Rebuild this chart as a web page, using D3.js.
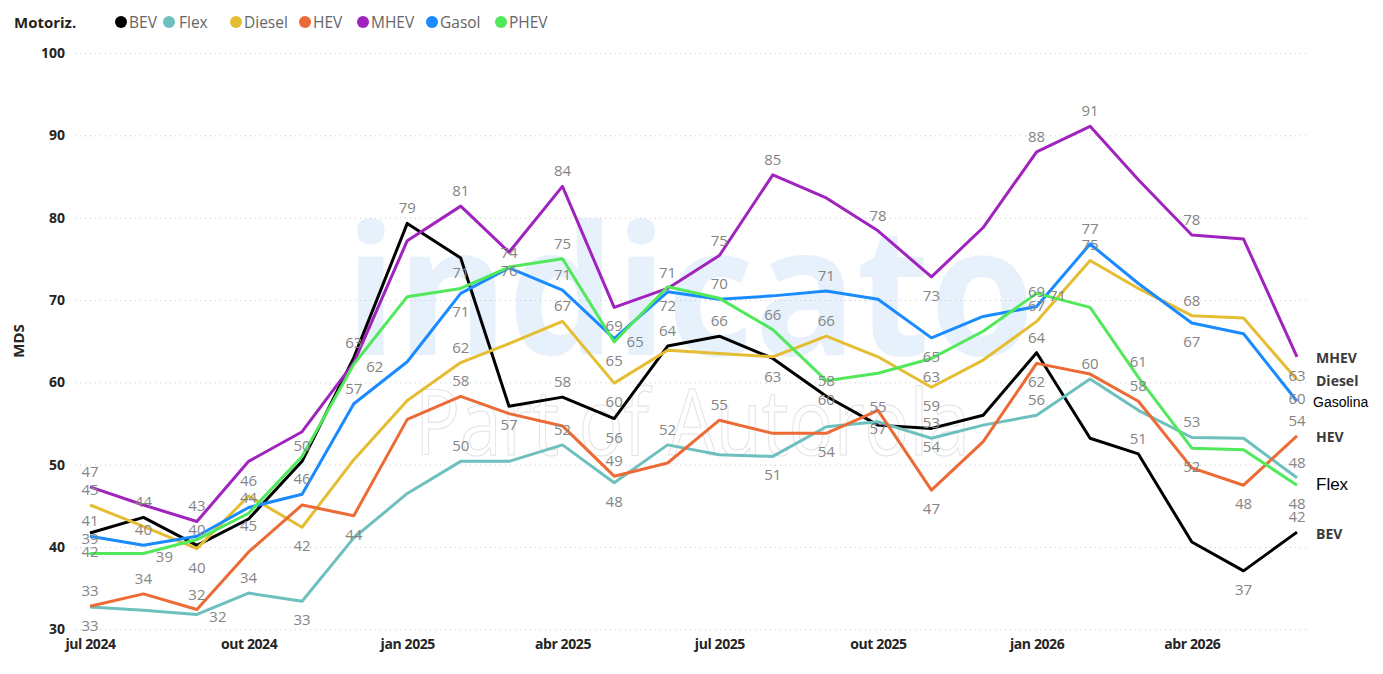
<!DOCTYPE html>
<html>
<head>
<meta charset="utf-8">
<script src="https://cdn.jsdelivr.net/npm/d3@7"></script>
<style>
  body { margin: 0; background: #fff; }
  svg { display: block; }
</style>
</head>
<body>
<div id="wrapper"></div>
<script>
const months = [
  "2024-07", "2024-08", "2024-09", "2024-10", "2024-11", "2024-12",
  "2025-01", "2025-02", "2025-03", "2025-04", "2025-05", "2025-06",
  "2025-07", "2025-08", "2025-09", "2025-10", "2025-11", "2025-12",
  "2026-01", "2026-02", "2026-03", "2026-04", "2026-05", "2026-06"
]

const bev    = [41.7, 43.6, 40.2, 43.4, 50.4, 63.0, 79.3, 75.1, 57.1, 58.2, 55.6, 64.4, 65.6, 62.9, 58.3, 54.8, 54.4, 56.0, 63.6, 53.2, 51.3, 40.6, 37.1, 41.8]
const flex   = [32.7, 32.3, 31.8, 34.4, 33.4, 41.1, 46.5, 50.4, 50.4, 52.4, 47.8, 52.4, 51.2, 51.0, 54.6, 55.2, 53.2, 54.8, 56.0, 60.4, 56.6, 53.3, 53.2, 48.4]
const diesel = [45.1, 42.5, 39.8, 46.2, 42.4, 50.6, 57.8, 62.4, 64.7, 67.4, 59.9, 63.9, 63.5, 63.1, 65.6, 63.1, 59.4, 62.7, 67.4, 74.8, 71.4, 68.1, 67.8, 60.3]
const hev    = [32.8, 34.3, 32.4, 39.4, 45.1, 43.8, 55.5, 58.3, 56.2, 54.7, 48.6, 50.2, 55.4, 53.8, 53.8, 56.6, 46.9, 52.8, 62.3, 61.0, 57.7, 49.6, 47.5, 53.5]
const mhev   = [47.3, 45.1, 43.1, 50.4, 54.0, 62.4, 77.2, 81.4, 75.8, 83.8, 69.1, 71.4, 75.4, 85.2, 82.4, 78.4, 72.8, 78.8, 88.0, 91.1, 84.6, 77.9, 77.4, 63.1]
const gasol  = [41.3, 40.2, 41.3, 44.8, 46.4, 57.4, 62.5, 70.8, 73.9, 71.2, 65.3, 71.0, 70.1, 70.5, 71.1, 70.1, 65.4, 68.0, 69.2, 76.8, 72.0, 67.2, 65.9, 57.7]
const phev   = [39.2, 39.2, 40.9, 44.1, 51.0, 62.2, 70.4, 71.4, 74.0, 75.0, 64.9, 71.6, 70.2, 66.4, 60.2, 61.1, 62.9, 66.2, 70.8, 69.1, 60.6, 52.0, 51.8, 47.5]

const seriesNames = ["BEV", "Flex", "Diesel", "HEV", "MHEV", "Gasol", "PHEV"]
const seriesValues = [bev, flex, diesel, hev, mhev, gasol, phev]
const colors = ["#000000", "#6ec0bf", "#e5bd33", "#ec6a35", "#a123bd", "#1a8bff", "#52e85b"]

// names written at the end of the lines
const endNames = { BEV: "BEV", Flex: "Flex", Diesel: "Diesel", HEV: "HEV", MHEV: "MHEV", Gasol: "Gasolina" }

const yTicks = [30, 40, 50, 60, 70, 80, 90, 100]
const xTicks = ["2024-07", "2024-10", "2025-01", "2025-04", "2025-07", "2025-10", "2026-01", "2026-04"]
const monthNames = ["jan", "fev", "mar", "abr", "mai", "jun", "jul", "ago", "set", "out", "nov", "dez"]

// which data labels are visible: [series, month index, place]
const shownLabels = [
  ["BEV", 0, "b"], ["BEV", 1, "a"], ["BEV", 2, "a"], ["BEV", 4, "a"], ["BEV", 5, "a"], ["BEV", 6, "a"],
  ["BEV", 8, "b"], ["BEV", 9, "a"], ["BEV", 10, "b"], ["BEV", 11, "a"], ["BEV", 12, "a"], ["BEV", 13, "b"],
  ["BEV", 14, "a"], ["BEV", 16, "b"], ["BEV", 18, "a"], ["BEV", 20, "a"], ["BEV", 22, "b"], ["BEV", 23, "a"],
  ["Flex", 0, "b"], ["Flex", 2, "r"], ["Flex", 3, "a"], ["Flex", 4, "b"], ["Flex", 7, "a"], ["Flex", 9, "a"],
  ["Flex", 10, "b"], ["Flex", 11, "a"], ["Flex", 13, "b"], ["Flex", 15, "a"], ["Flex", 16, "a"], ["Flex", 18, "a"],
  ["Flex", 19, "a"], ["Flex", 21, "a"], ["Flex", 23, "a"],
  ["Diesel", 0, "a"], ["Diesel", 2, "b"], ["Diesel", 3, "a"], ["Diesel", 4, "b"], ["Diesel", 7, "a"], ["Diesel", 9, "a"],
  ["Diesel", 10, "b"], ["Diesel", 14, "a"], ["Diesel", 16, "b"], ["Diesel", 18, "a"], ["Diesel", 19, "a"],
  ["Diesel", 21, "a"], ["Diesel", 23, "b"],
  ["HEV", 0, "a"], ["HEV", 1, "a"], ["HEV", 2, "a"], ["HEV", 5, "b"], ["HEV", 7, "a"], ["HEV", 10, "a"],
  ["HEV", 12, "a"], ["HEV", 14, "b"], ["HEV", 15, "b"], ["HEV", 16, "b"], ["HEV", 18, "b"], ["HEV", 20, "a"],
  ["HEV", 22, "b"], ["HEV", 23, "a"],
  ["MHEV", 0, "a"], ["MHEV", 2, "a"], ["MHEV", 7, "a"], ["MHEV", 8, "b"], ["MHEV", 9, "a"], ["MHEV", 10, "b"],
  ["MHEV", 11, "a"], ["MHEV", 12, "a"], ["MHEV", 13, "a"], ["MHEV", 15, "a"], ["MHEV", 16, "b"], ["MHEV", 18, "a"],
  ["MHEV", 19, "a"], ["MHEV", 21, "a"], ["MHEV", 23, "b"],
  ["Gasol", 0, "a"], ["Gasol", 1, "a"], ["Gasol", 3, "b"], ["Gasol", 4, "a"], ["Gasol", 5, "a"], ["Gasol", 7, "b"],
  ["Gasol", 8, "a"], ["Gasol", 9, "a"], ["Gasol", 10, "r"], ["Gasol", 12, "a"], ["Gasol", 14, "a"], ["Gasol", 16, "b"],
  ["Gasol", 18, "a"], ["Gasol", 19, "a"], ["Gasol", 21, "b"],
  ["PHEV", 0, "a"], ["PHEV", 1, "r"], ["PHEV", 3, "a"], ["PHEV", 5, "r"], ["PHEV", 7, "a"], ["PHEV", 9, "a"],
  ["PHEV", 10, "b"], ["PHEV", 11, "b"], ["PHEV", 13, "a"], ["PHEV", 14, "b"], ["PHEV", 16, "b"], ["PHEV", 18, "r"],
  ["PHEV", 20, "a"], ["PHEV", 21, "b"], ["PHEV", 23, "b"]
]

const parseMonth = d3.timeParse("%Y-%m")
const dates = months.map(parseMonth)

const width = 1383
const height = 674
const font = "'Open Sans', 'Noto Sans', sans-serif"

const svg = d3.select("#wrapper")
  .append("svg")
    .attr("width", width)
    .attr("height", height)
    .style("font-family", font)

const xScale = d3.scaleTime()
  .domain(d3.extent(dates))
  .range([90, 1297])

const yScale = d3.scaleLinear()
  .domain([30, 100])
  .range([629.3, 53])

// watermark
svg.append("text")
    .attr("x", 345)
    .attr("y", 355)
    .attr("textLength", 690)
    .attr("lengthAdjust", "spacingAndGlyphs")
    .attr("font-size", 180)
    .attr("font-weight", "bold")
    .attr("fill", "#e6f1fc")
    .text("indicato")

svg.append("text")
    .attr("x", 415)
    .attr("y", 455)
    .attr("textLength", 555)
    .attr("lengthAdjust", "spacingAndGlyphs")
    .attr("font-size", 92)
    .attr("fill", "none")
    .attr("stroke", "#e4e4e4")
    .attr("stroke-width", 1.2)
    .text("Part of Autorola")

// gridlines + y axis
const yAxis = svg.append("g")
  .attr("transform", "translate(75,0)")
  .call(d3.axisLeft(yScale).tickValues(yTicks).tickSize(-1235).tickPadding(10))

yAxis.select(".domain").remove()
yAxis.selectAll(".tick line")
    .attr("stroke", "#c8c8c8")
    .attr("stroke-dasharray", "1,4")
yAxis.selectAll(".tick text")
    .attr("font-family", font)
    .attr("font-size", 14)
    .attr("font-weight", "bold")
    .attr("fill", "#252423")

svg.append("text")
    .attr("transform", "translate(24,341) rotate(-90)")
    .attr("text-anchor", "middle")
    .attr("font-size", 15)
    .attr("font-weight", "bold")
    .attr("fill", "#252423")
    .text("MDS")

// x axis
const xAxis = svg.append("g")
  .attr("transform", "translate(0,635)")
  .call(d3.axisBottom(xScale)
    .tickValues(xTicks.map(parseMonth))
    .tickSize(0)
    .tickPadding(4)
    .tickFormat(d => monthNames[d.getMonth()] + " " + d.getFullYear()))

xAxis.select(".domain").remove()
xAxis.selectAll(".tick text")
    .attr("font-family", font)
    .attr("font-size", 14)
    .attr("font-weight", "bold")
    .attr("fill", "#252423")
    .attr("letter-spacing", "-0.4")

// lines
const line = d3.line()
  .x((d, i) => xScale(dates[i]))
  .y(d => yScale(d))

svg.append("g")
  .selectAll("path")
  .data(seriesValues)
  .join("path")
    .attr("d", line)
    .attr("fill", "none")
    .attr("stroke", (d, i) => colors[i])
    .attr("stroke-width", 3)
    .attr("stroke-linejoin", "round")

// data labels
svg.append("g")
  .selectAll("text")
  .data(shownLabels)
  .join("text")
    .attr("x", d => xScale(dates[d[1]]) + (d[2] == "r" ? 21 : 0))
    .attr("y", d => {
      const v = seriesValues[seriesNames.indexOf(d[0])][d[1]]
      const off = d[2] == "a" ? -16 : d[2] == "b" ? 18 : 2
      return yScale(v) + off
    })
    .attr("text-anchor", "middle")
    .attr("dominant-baseline", "central")
    .attr("font-size", 15)
    .attr("fill", "#858585")
    .text(d => Math.round(seriesValues[seriesNames.indexOf(d[0])][d[1]]))

// names at the end of the lines
const last = months.length - 1
svg.append("g")
  .selectAll("text")
  .data(seriesNames.filter(n => endNames[n]))
  .join("text")
    .attr("x", n => n == "Gasol" ? 1313 : 1316)
    .attr("y", n => yScale(seriesValues[seriesNames.indexOf(n)][last]) + (n == "Flex" ? 7 : 1))
    .attr("dominant-baseline", "central")
    .attr("font-family", n => (n == "Flex" || n == "Gasol") ? "'Liberation Sans', Arial, sans-serif" : font)
    .attr("font-size", n => n == "Flex" ? 17 : 14)
    .attr("font-weight", n => (n == "Flex" || n == "Gasol") ? "normal" : "bold")
    .attr("fill", n => (n == "Flex" || n == "Gasol") ? "#000" : "#3a3a3a")
    .text(n => endNames[n])

// legend
const legendX = [121, 169, 236, 305, 363, 432, 501]
const legend = svg.append("g").attr("transform", "translate(0,22)")
legend.append("text")
    .attr("x", 14)
    .attr("dominant-baseline", "central")
    .attr("font-size", 15)
    .attr("font-weight", "bold")
    .attr("fill", "#252423")
    .text("Motoriz.")

legend.selectAll("circle")
  .data(seriesNames)
  .join("circle")
    .attr("cx", (d, i) => legendX[i])
    .attr("cy", 0)
    .attr("r", 6)
    .attr("fill", (d, i) => colors[i])

legend.selectAll("text.item")
  .data(seriesNames)
  .join("text")
    .attr("class", "item")
    .attr("x", (d, i) => legendX[i] + (d == "Flex" ? 10 : 8))
    .attr("dominant-baseline", "central")
    .attr("font-size", 15.5)
    .attr("fill", "#666")
    .text(d => d)
</script>
</body>
</html>
